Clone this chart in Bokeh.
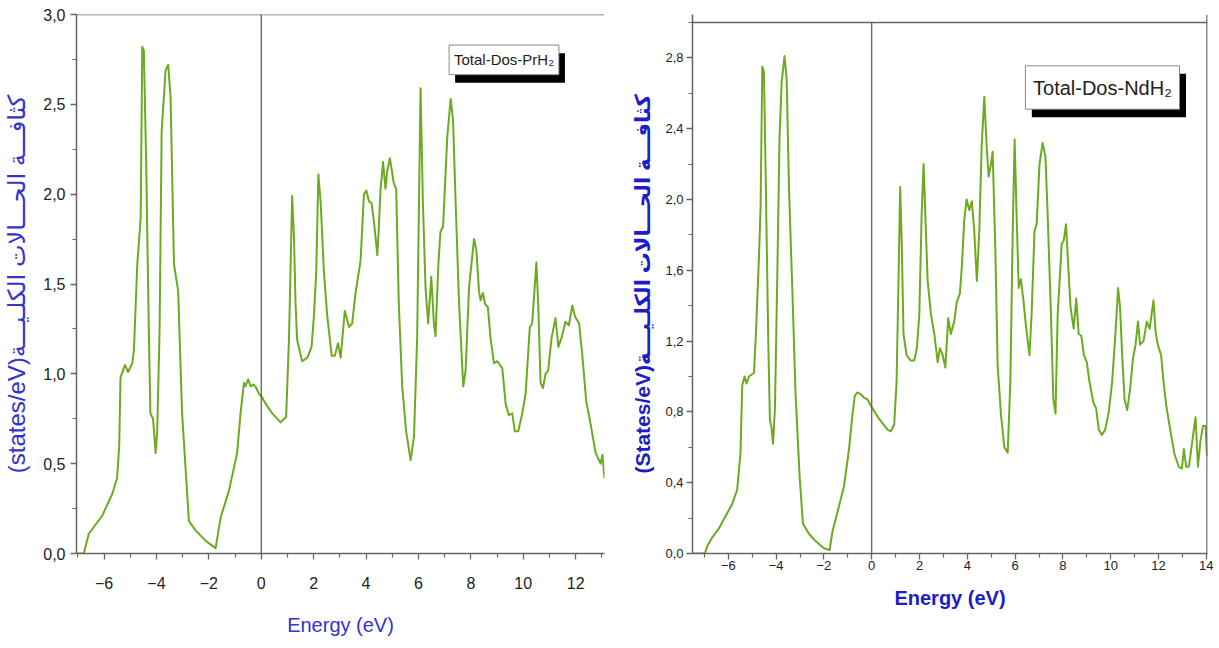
from bokeh.plotting import figure
from bokeh.models import FixedTicker, CustomJSTickFormatter, Span, BoxAnnotation, Label, Range1d
from bokeh.layouts import row
from bokeh.embed import file_html
from bokeh.resources import INLINE

# ---------------- data: PrH2 total DOS ----------------
pr_energy = [-7.05, -6.77, -6.58, -6.07, -5.69, -5.5, -5.42, -5.37, -5.2, -5.08, -4.92, -4.86, -4.73, -4.6,
             -4.54, -4.48, -4.39, -4.29, -4.23, -4.13, -4.03, -3.97, -3.88, -3.8, -3.65, -3.55, -3.46, -3.33,
             -3.17, -3.02, -2.76, -2.51, -2.12, -1.74, -1.55, -1.23, -0.92, -0.79, -0.66, -0.6, -0.5, -0.4,
             -0.3, -0.22, -0.09, 0.04, 0.1, 0.23, 0.42, 0.74, 0.87, 0.95, 1.06, 1.18, 1.25, 1.31, 1.37, 1.56,
             1.76, 1.92, 2.01, 2.1, 2.18, 2.27, 2.39, 2.52, 2.69, 2.81, 2.93, 3.03, 3.19, 3.35, 3.47, 3.6,
             3.79, 3.92, 4.01, 4.11, 4.21, 4.3, 4.43, 4.49, 4.55, 4.65, 4.74, 4.81, 4.91, 5.06, 5.15, 5.25,
             5.38, 5.53, 5.7, 5.83, 5.95, 6.08, 6.17, 6.27, 6.37, 6.49, 6.59, 6.65, 6.76, 6.84, 6.94, 7.1,
             7.23, 7.32, 7.42, 7.55, 7.71, 7.8, 7.93, 8.12, 8.21, 8.31, 8.37, 8.46, 8.54, 8.65, 8.75, 8.88,
             9.01, 9.2, 9.33, 9.45, 9.58, 9.68, 9.81, 9.96, 10.09, 10.25, 10.34, 10.5, 10.57, 10.66, 10.75,
             10.85, 10.95, 11.08, 11.23, 11.34, 11.46, 11.61, 11.74, 11.87, 11.97, 12.13, 12.25, 12.4, 12.57,
             12.76, 12.95, 13.02, 13.1]
pr_dos = [0.0, 0.0, 0.11, 0.21, 0.33, 0.42, 0.6, 0.98, 1.05, 1.01, 1.06, 1.13, 1.61, 1.87,
          2.82, 2.8, 2.17, 1.24, 0.78, 0.75, 0.56, 0.68, 1.24, 2.35, 2.69, 2.72, 2.54, 1.61,
          1.46, 0.78, 0.18, 0.13, 0.07, 0.03, 0.2, 0.35, 0.56, 0.78, 0.95, 0.93, 0.97, 0.93,
          0.94, 0.93, 0.89, 0.87, 0.85, 0.82, 0.78, 0.73, 0.75, 0.76, 1.2, 1.99, 1.76, 1.39, 1.19, 1.07,
          1.09, 1.15, 1.32, 1.57, 2.11, 1.95, 1.57, 1.32, 1.1, 1.1, 1.17, 1.09, 1.35, 1.26, 1.28, 1.45,
          1.63, 2.0, 2.02, 1.96, 1.95, 1.85, 1.66, 1.82, 2.02, 2.18, 2.03, 2.13, 2.2, 2.06, 2.03, 1.39,
          0.93, 0.68, 0.52, 0.65, 1.2, 2.59, 1.95, 1.48, 1.28, 1.54, 1.28, 1.21, 1.61, 1.79, 1.82, 2.32,
          2.53, 2.41, 1.95, 1.39, 0.93, 1.02, 1.48, 1.75, 1.69, 1.46, 1.41, 1.45, 1.39, 1.37, 1.2, 1.06,
          1.07, 1.03, 0.83, 0.77, 0.78, 0.68, 0.68, 0.78, 0.89, 1.26, 1.28, 1.62, 1.39, 0.95, 0.92,
          1.0, 1.02, 1.2, 1.31, 1.15, 1.2, 1.29, 1.27, 1.38, 1.32, 1.28, 1.11, 0.85, 0.72,
          0.56, 0.5, 0.55, 0.42]

# ---------------- data: NdH2 total DOS ----------------
nd_energy = [-7.5, -6.98, -6.89, -6.68, -6.4, -6.12, -5.84, -5.63, -5.49, -5.42, -5.32, -5.24, -5.14, -4.93,
             -4.86, -4.72, -4.65, -4.58, -4.51, -4.44, -4.33, -4.26, -4.2, -4.13, -4.05, -3.95, -3.86, -3.77,
             -3.65, -3.56, -3.46, -3.32, -3.19, -3.02, -2.88, -2.62, -2.35, -2.0, -1.76, -1.65, -1.44, -1.16,
             -0.95, -0.81, -0.71, -0.6, -0.46, -0.32, -0.18, 0.03, 0.31, 0.66, 0.8, 0.94, 1.04, 1.12, 1.19,
             1.26, 1.33, 1.46, 1.63, 1.78, 1.89, 1.99, 2.09, 2.17, 2.24, 2.34, 2.48, 2.62, 2.76, 2.85, 2.97,
             3.08, 3.2, 3.31, 3.45, 3.56, 3.69, 3.77, 3.87, 3.97, 4.08, 4.19, 4.29, 4.4, 4.5, 4.6, 4.71, 4.81,
             4.89, 4.99, 5.06, 5.17, 5.27, 5.41, 5.55, 5.69, 5.8, 5.9, 5.98, 6.06, 6.15, 6.24, 6.34, 6.45,
             6.6, 6.69, 6.81, 6.9, 7.02, 7.15, 7.27, 7.36, 7.5, 7.6, 7.69, 7.78, 7.95, 8.04, 8.13, 8.24, 8.32,
             8.45, 8.56, 8.66, 8.77, 8.88, 9.0, 9.11, 9.28, 9.39, 9.5, 9.63, 9.77, 9.92, 10.06, 10.2, 10.31,
             10.39, 10.48, 10.58, 10.69, 10.81, 10.93, 11.04, 11.14, 11.23, 11.37, 11.51, 11.63, 11.71, 11.79,
             11.88, 11.97, 12.11, 12.21, 12.32, 12.49, 12.67, 12.85, 12.98, 13.06, 13.16, 13.27, 13.41, 13.55,
             13.65, 13.75, 13.86, 13.97, 14.03]
nd_dos = [0.0, 0.0, 0.04, 0.09, 0.14, 0.21, 0.28, 0.36, 0.57, 0.95, 1.0, 0.96, 1.0, 1.02,
          1.2, 1.67, 1.96, 2.75, 2.72, 2.15, 1.2, 0.75, 0.72, 0.62, 0.82, 1.58, 2.34, 2.66,
          2.81, 2.68, 2.05, 1.48, 0.91, 0.44, 0.17, 0.11, 0.07, 0.03, 0.02, 0.12, 0.23, 0.38,
          0.59, 0.78, 0.89, 0.91, 0.9, 0.88, 0.87, 0.82, 0.76, 0.7, 0.69, 0.73, 0.97, 1.54, 2.07,
          1.73, 1.24, 1.12, 1.09, 1.09, 1.16, 1.35, 1.92, 2.2, 1.92, 1.54, 1.35, 1.24, 1.08, 1.16, 1.12,
          1.05, 1.33, 1.24, 1.31, 1.42, 1.47, 1.62, 1.88, 2.0, 1.94, 1.99, 1.82, 1.54, 1.82, 2.3, 2.58, 2.3,
          2.13, 2.2, 2.27, 1.73, 1.06, 0.78, 0.6, 0.57, 0.97, 1.82, 2.34, 1.92, 1.5, 1.55, 1.44, 1.29,
          1.12, 1.35, 1.82, 1.86, 2.2, 2.32, 2.24, 1.92, 1.35, 0.87, 0.79, 1.35, 1.75, 1.77, 1.86, 1.58, 1.39,
          1.27, 1.44, 1.24, 1.23, 1.12, 1.08, 0.97, 0.85, 0.82, 0.7, 0.67, 0.7, 0.8, 0.97, 1.25, 1.5,
          1.39, 1.12, 0.87, 0.81, 0.93, 1.1, 1.18, 1.31, 1.18, 1.2, 1.31, 1.27, 1.35, 1.43,
          1.25, 1.18, 1.12, 0.97, 0.84, 0.7, 0.56, 0.49, 0.48, 0.59, 0.49, 0.49, 0.63, 0.77,
          0.49, 0.63, 0.72, 0.72, 0.55]

pr_xticks = [-6, -4, -2, 0, 2, 4, 6, 8, 10, 12]
pr_xminor = [-7, -5, -3, -1, 1, 3, 5, 7, 9, 11, 13]
pr_yticks = [0.0, 0.5, 1.0, 1.5, 2.0, 2.5, 3.0]
pr_yminor = [0.25, 0.75, 1.25, 1.75, 2.25, 2.75]

nd_xticks = [-6, -4, -2, 0, 2, 4, 6, 8, 10, 12, 14]
nd_xminor = [-7, -5, -3, -1, 1, 3, 5, 7, 9, 11, 13]
nd_yticks = [0.0, 0.4, 0.8, 1.2, 1.6, 2.0, 2.4, 2.8]
nd_yminor = [0.2, 0.6, 1.0, 1.4, 1.8, 2.2, 2.6, 3.0]

arabic = "كثافـــة الحـــالات الكلـيـــة"
pr_ylabel = "(states/eV)" + arabic
nd_ylabel = "(States/eV)" + arabic
xlabel = "Energy (eV)"
pr_legend = "Total-Dos-PrH₂"
nd_legend = "Total-Dos-NdH₂"

GREEN = "#6cab1f"
AXC = "#666666"
FONT = "Liberation Sans Narrow, Liberation Sans, Arial, DejaVu Sans"
fmt = CustomJSTickFormatter(code="return tick.toFixed(1).replace('.', ',');")


def style_axes(p, tick_size, label_color, label_style, label_size):
    for ax in (p.xaxis[0], p.yaxis[0]):
        ax.axis_line_color = AXC
        ax.axis_line_width = 1.5
        ax.major_tick_line_color = AXC
        ax.major_tick_line_width = 1.3
        ax.minor_tick_line_color = AXC
        ax.minor_tick_line_width = 1.2
        ax.major_tick_in = 0
        ax.major_tick_out = 6
        ax.minor_tick_in = 0
        ax.minor_tick_out = 4
        ax.major_label_text_font = FONT
        ax.major_label_text_font_size = tick_size
        ax.major_label_text_color = "#222222"
        ax.axis_label_text_font = FONT
        ax.axis_label_text_font_style = label_style
        ax.axis_label_text_color = label_color
        ax.axis_label_text_font_size = label_size
    p.xgrid.visible = False
    p.ygrid.visible = False


def legend_box(p, left, right, top, bottom, dx, dy, text, size):
    p.add_layout(BoxAnnotation(left=left + dx, right=right + dx, top=top - dy, bottom=bottom - dy,
                               fill_color="black", fill_alpha=1, line_alpha=0))
    p.add_layout(BoxAnnotation(left=left, right=right, top=top, bottom=bottom,
                               fill_color="white", fill_alpha=1, line_color="#888888",
                               line_alpha=1, line_width=1))
    p.add_layout(Label(x=(left + right) / 2, y=(top + bottom) / 2, text=text, text_align="center",
                       text_baseline="middle", text_font=FONT, text_font_size=size,
                       text_color="#222222"))


# ---------------- left panel ----------------
p1 = figure(title=None, frame_width=528, frame_height=539, min_border_left=74, min_border_right=8,
            min_border_top=14, min_border_bottom=95, x_range=Range1d(-7.05, 13.1),
            y_range=Range1d(0, 3.0), output_backend="svg", toolbar_location=None)
p1.outline_line_color = None
p1.line(pr_energy, pr_dos, line_color=GREEN, line_width=2, line_join="round")
p1.xaxis.ticker = FixedTicker(ticks=pr_xticks, minor_ticks=pr_xminor)
p1.yaxis.ticker = FixedTicker(ticks=pr_yticks, minor_ticks=pr_yminor)
p1.yaxis.formatter = fmt
p1.xaxis.axis_label = xlabel
p1.yaxis.axis_label = pr_ylabel
style_axes(p1, "16px", "#3434cc", "normal", "20px")
p1.yaxis.axis_label_text_font_size = "24px"
p1.xaxis.major_label_standoff = 17
p1.xaxis.axis_label_standoff = 22
p1.yaxis.major_label_standoff = 5
p1.yaxis.axis_label_standoff = 10
p1.add_layout(Span(location=3.0, dimension="width", line_color=AXC, line_width=1.5))
p1.add_layout(Span(location=0, dimension="height", line_color="#555555", line_width=1.2))
legend_box(p1, 7.17, 11.36, 2.83, 2.665, 0.23, 0.045, pr_legend, "15px")

# ---------------- right panel ----------------
p2 = figure(title=None, frame_width=515, frame_height=539, min_border_left=80, min_border_right=14,
            min_border_top=14, min_border_bottom=95, x_range=Range1d(-7.5, 14.05),
            y_range=Range1d(0, 3.045), output_backend="svg", toolbar_location=None)
p2.outline_line_color = None
p2.line(nd_energy, nd_dos, line_color=GREEN, line_width=2, line_join="round")
p2.xaxis.ticker = FixedTicker(ticks=nd_xticks, minor_ticks=nd_xminor)
p2.yaxis.ticker = FixedTicker(ticks=nd_yticks, minor_ticks=nd_yminor)
p2.yaxis.formatter = fmt
p2.xaxis.axis_label = xlabel
p2.yaxis.axis_label = nd_ylabel
style_axes(p2, "13px", "#1c1cc8", "bold", "20px")
p2.yaxis.axis_label_text_font_size = "21px"
p2.xaxis.major_label_standoff = 1
p2.xaxis.axis_label_standoff = 14
p2.yaxis.major_label_standoff = 3
p2.yaxis.axis_label_standoff = 8
# frame top and right edges, and the Fermi-level line
p2.add_layout(Span(location=3.0, dimension="width", line_color=AXC, line_width=1.5))
p2.add_layout(Span(location=14.03, dimension="height", line_color=AXC, line_width=1.5))
p2.add_layout(BoxAnnotation(left=0, right=0, top=3.0, bottom=0,
                            fill_alpha=0, line_color="#555555", line_alpha=1, line_width=1.2))
legend_box(p2, 6.43, 12.88, 2.755, 2.51, 0.27, 0.045, nd_legend, "20px")

layout = row(p1, p2)
open("out.html", "w").write(file_html(layout, INLINE))
